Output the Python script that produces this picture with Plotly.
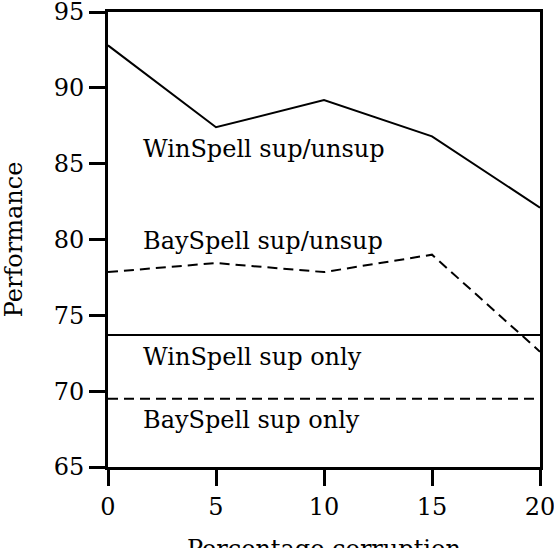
import plotly.graph_objects as go

x_vals = [0, 5, 10, 15, 20]
winspell_supunsup = [92.8, 87.4, 89.2, 86.8, 82.1]
bayspell_supunsup = [77.85, 78.45, 77.85, 79.0, 72.6]
winspell_sup_only = [73.7, 73.7, 73.7, 73.7, 73.7]
bayspell_sup_only = [69.5, 69.5, 69.5, 69.5, 69.5]

labels = ["WinSpell sup/unsup", "BaySpell sup/unsup", "WinSpell sup only", "BaySpell sup only"]
label_x = [1.55, 1.55, 1.55, 1.55]
label_y = [86.0, 79.9, 72.25, 68.1]

x_ticks = [0, 5, 10, 15, 20]
y_ticks = [65, 70, 75, 80, 85, 90, 95]
x_title = "Percentage corruption"
y_title = "Performance"

FONT = "DejaVu Serif"
FS = 24

fig = go.Figure()
fig.add_trace(go.Scatter(x=x_vals, y=winspell_supunsup, mode="lines",
                         line=dict(color="black", width=2), name=labels[0]))
fig.add_trace(go.Scatter(x=x_vals, y=bayspell_supunsup, mode="lines",
                         line=dict(color="black", width=2, dash="10px,6px"), name=labels[1]))
fig.add_trace(go.Scatter(x=x_vals, y=winspell_sup_only, mode="lines",
                         line=dict(color="black", width=2), name=labels[2]))
fig.add_trace(go.Scatter(x=x_vals, y=bayspell_sup_only, mode="lines",
                         line=dict(color="black", width=2, dash="10px,6px"), name=labels[3]))

for t, xx, yy in zip(labels, label_x, label_y):
    fig.add_annotation(x=xx, y=yy, text=t, showarrow=False, xanchor="left",
                       yanchor="middle", font=dict(family=FONT, size=FS, color="black"))

# x-axis title, placed low so it is partly cut by the bottom edge as in the reference
fig.add_annotation(x=0.5, xref="paper", y=0, yref="paper", yshift=-66,
                   text=x_title, showarrow=False, xanchor="center", yanchor="top",
                   font=dict(family=FONT, size=FS, color="black"))

fig.update_layout(
    width=554, height=548,
    margin=dict(l=108, r=14, t=12, b=81),
    paper_bgcolor="white", plot_bgcolor="white",
    showlegend=False,
    font=dict(family=FONT, size=FS, color="black"),
)
fig.update_xaxes(range=[0, 20], tickvals=x_ticks, ticks="outside", ticklen=16, tickwidth=3,
                 tickcolor="black", showline=True, linewidth=3, linecolor="black",
                 mirror=True, showgrid=False, zeroline=False,
                 automargin=False, ticklabeloverflow="allow",
                 tickfont=dict(family=FONT, size=FS))
fig.update_yaxes(range=[65, 95], tickvals=y_ticks, ticks="outside", ticklen=16, tickwidth=3,
                 tickcolor="black", showline=True, linewidth=3, linecolor="black",
                 mirror=True, showgrid=False, zeroline=False,
                 title=dict(text=y_title, standoff=26,
                            font=dict(family=FONT, size=FS)),
                 automargin=False, ticklabeloverflow="allow",
                 tickfont=dict(family=FONT, size=FS))

fig.write_html("out.html", config={"displayModeBar": False},
               post_script="document.body.style.margin='0';document.body.style.overflow='hidden';")
